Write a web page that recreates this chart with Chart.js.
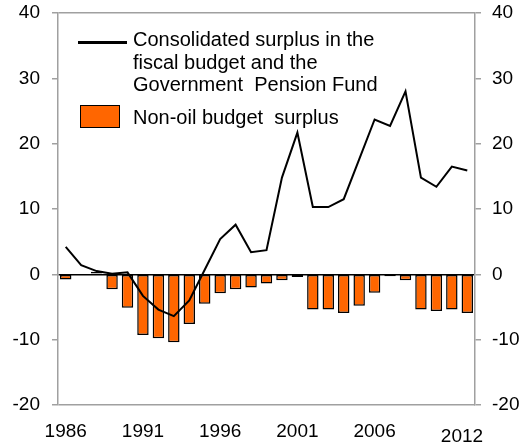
<!DOCTYPE html>
<html>
<head>
<meta charset="utf-8">
<script src="https://cdn.jsdelivr.net/npm/chart.js@4.4.0/dist/chart.umd.min.js"></script>
<style>
  html, body { margin: 0; padding: 0; background: #fff; }
  #wrap { position: relative; width: 524px; height: 445px; }
  #chart { position: absolute; left: 0; top: 0; }
  .leg { position: absolute; font-family: "Liberation Sans", Arial, sans-serif; font-size: 20px; line-height: 22.5px; color: #000; white-space: nowrap; }
  .legLine { position: absolute; left: 78px; top: 41px; width: 49px; height: 2.5px; background: #000; }
  .legBox { position: absolute; left: 80px; top: 105px; width: 38px; height: 21px; background: #ff6600; border: 1.5px solid #000; }
</style>
</head>
<body>
<div id="wrap">
  <canvas id="chart" width="524" height="445"></canvas>
  <div class="legLine"></div>
  <div class="leg" style="left:133px; top:28px;">Consolidated surplus in the<br>fiscal budget and the<br>Government&nbsp; Pension Fund</div>
  <div class="legBox"></div>
  <div class="leg" style="left:133px; top:106px;">Non-oil budget&nbsp; surplus</div>
</div>
<script>
  "use strict";

  // ===== Datos =====
  const years = [
    "1986", "1987", "1988", "1989", "1990", "1991", "1992", "1993", "1994",
    "1995", "1996", "1997", "1998", "1999", "2000", "2001", "2002", "2003",
    "2004", "2005", "2006", "2007", "2008", "2009", "2010", "2011", "2012",
  ];
  const shownYears = ["1986", "1991", "1996", "2001", "2006", "2012"];

  // Superávit consolidado (línea)
  const consolidated = [
    4.2, 1.4, 0.5, 0.1, 0.3, -3.3, -5.4, -6.4, -4.0, 0.7, 5.4, 7.6, 3.4, 3.7,
    14.8, 21.7, 10.3, 10.3, 11.5, 17.6, 23.7, 22.7, 28.0, 14.8, 13.4, 16.5, 15.9,
  ];
  // Superávit no petrolero (barras)
  const nonOil = [
    -0.8, 0, 0.4, -2.3, -5.1, -9.3, -9.8, -10.4, -7.6, -4.5, -2.9, -2.3, -2.0,
    -1.4, -0.9, -0.4, -5.4, -5.4, -5.9, -4.8, -2.8, -0.3, -0.9, -5.4, -5.6,
    -5.4, -5.9,
  ];
  const yTicks = { min: -20, max: 40, step: 10 };

  const FONT = "'Liberation Sans', Arial, sans-serif";
  const AXIS_GRAY = "#a0a0a0";
  const LAST = years.length - 1;

  function gridColor(ctx) {
    const v = ctx.tick ? ctx.tick.value : null;
    if (v === 0) return "#000";
    if (v === yTicks.min || v === yTicks.max) return AXIS_GRAY;
    return "rgba(0,0,0,0)";
  }

  // ancho fijo del eje y sin relleno extra arriba/abajo
  function fixY(width) {
    return (s) => {
      s.width = width;
      s.paddingTop = 0;
      s.paddingBottom = 0;
    };
  }

  const ctx = document.getElementById("chart").getContext("2d");
  new Chart(ctx, {
    type: "bar",
    data: {
      labels: years,
      datasets: [
        {
          type: "line",
          label: "Consolidated surplus",
          data: consolidated,
          borderColor: "#000",
          borderWidth: 2,
          pointRadius: 0,
          tension: 0,
          fill: false,
          order: 0,
          yAxisID: "y",
        },
        {
          type: "bar",
          label: "Non-oil budget surplus",
          data: nonOil,
          backgroundColor: "#ff6600",
          borderColor: "#000",
          borderWidth: 1.5,
          borderSkipped: false,
          barPercentage: 0.74,
          categoryPercentage: 1,
          order: 1,
          yAxisID: "y",
        },
      ],
    },
    options: {
      responsive: false,
      animation: false,
      layout: { padding: { top: 13, left: 0, right: 0, bottom: 0 } },
      plugins: { legend: { display: false }, tooltip: { enabled: false } },
      scales: {
        x: {
          grid: { display: false, drawTicks: false },
          border: { display: false },
          ticks: {
            autoSkip: false,
            maxRotation: 0,
            padding: 15,
            color: "#000",
            font: (c) => ({
              family: FONT,
              size: 19,
              lineHeight: c.index === LAST ? 0.6 : 1.2,
            }),
            callback: function (v, i) {
              const lbl = years[i];
              if (!shownYears.includes(lbl)) return "";
              if (i === LAST) return ["", lbl + "  "];
              return lbl;
            },
          },
          afterFit: (s) => {
            s.height = 40;
            s.paddingLeft = 0;
            s.paddingRight = 0;
          },
        },
        y: {
          position: "left",
          min: yTicks.min,
          max: yTicks.max,
          ticks: {
            stepSize: yTicks.step,
            padding: 12,
            color: "#000",
            font: { family: FONT, size: 19 },
          },
          grid: {
            drawOnChartArea: true,
            color: gridColor,
            lineWidth: 1.5,
            tickColor: AXIS_GRAY,
            tickLength: 6,
          },
          border: { display: true, color: AXIS_GRAY, width: 1.5 },
          afterFit: fixY(58),
        },
        y2: {
          position: "right",
          min: yTicks.min,
          max: yTicks.max,
          ticks: {
            stepSize: yTicks.step,
            padding: 11,
            color: "#000",
            font: { family: FONT, size: 19 },
          },
          grid: {
            drawOnChartArea: false,
            tickColor: AXIS_GRAY,
            tickLength: 6,
            lineWidth: 1.5,
          },
          border: { display: true, color: AXIS_GRAY, width: 1.5 },
          afterFit: fixY(49),
        },
      },
    },
  });
</script>
</body>
</html>
